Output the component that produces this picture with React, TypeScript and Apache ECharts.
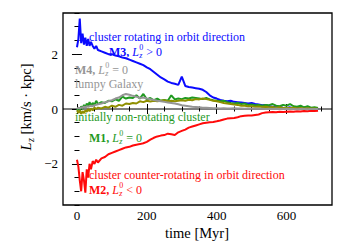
import React, { useEffect, useRef } from "react";
import * as echarts from "echarts";

const times = [0, 4, 8, 12, 16, 20, 24, 28, 32, 36, 40, 45, 50, 55, 60, 70, 80, 90, 100, 110, 120, 130, 140, 150, 160, 170, 180, 190, 200, 210, 220, 230, 240, 250, 260, 270, 280, 290, 300, 310, 320, 330, 340, 350, 360, 370, 380, 390, 400, 410, 420, 430, 440, 450, 460, 470, 480, 490, 500, 510, 520, 530, 540, 550, 560, 570, 580, 590, 600, 610, 620, 630, 640, 650, 660, 670, 680, 690];

const m3Blue = [2.25, 2.55, 3.3, 2.4, 2.75, 2.35, 2.6, 2.3, 2.55, 2.3, 2.45, 2.3, 2.2, 2.3, 2.15, 2.1, 2.05, 2.0, 2.0, 1.95, 1.92, 1.88, 1.85, 1.8, 1.75, 1.7, 1.65, 1.6, 1.52, 1.45, 1.35, 1.25, 1.15, 1.08, 1.0, 0.95, 0.92, 0.88, 1.18, 0.84, 0.8, 0.78, 0.76, 0.74, 0.7, 0.62, 0.5, 0.42, 0.38, 0.33, 0.3, 0.28, 0.3, 0.26, 0.25, 0.24, 0.22, 0.2, 0.22, 0.18, 0.16, 0.14, 0.15, 0.1, 0.08, 0.06, 0.07, 0.05, 0.04, 0.06, 0.03, 0.05, 0.02, 0.0, 0.02, -0.02, 0.0, -0.03];

const m2Red = [-1.85, -2.1, -2.6, -3.0, -2.3, -2.6, -3.05, -2.2, -2.5, -2.0, -2.2, -1.9, -2.0, -1.85, -1.95, -1.8, -1.75, -1.65, -1.6, -1.55, -1.5, -1.45, -1.4, -1.38, -1.33, -1.3, -1.28, -1.25, -1.2, -1.12, -1.05, -1.0, -0.97, -0.95, -0.9, -0.92, -0.95, -0.85, -0.8, -0.75, -0.68, -0.64, -0.6, -0.56, -0.52, -0.5, -0.48, -0.47, -0.45, -0.42, -0.38, -0.35, -0.34, -0.33, -0.3, -0.26, -0.25, -0.24, -0.24, -0.22, -0.2, -0.15, -0.13, -0.12, -0.11, -0.12, -0.1, -0.11, -0.1, -0.09, -0.1, -0.08, -0.09, -0.07, -0.08, -0.06, -0.07, -0.06];

const m1Green = [-0.05, 0.05, -0.1, 0.1, 0.0, 0.15, 0.05, 0.2, 0.1, 0.25, 0.12, 0.22, 0.15, 0.3, 0.18, 0.25, 0.22, 0.3, 0.28, 0.35, 0.3, 0.45, 0.38, 0.42, 0.4, 0.5, 0.38, 0.55, 0.35, 0.4, 0.32, 0.38, 0.3, 0.33, 0.3, 0.5, 0.35, 0.38, 0.36, 0.4, 0.38, 0.42, 0.4, 0.38, 0.36, 0.4, 0.35, 0.32, 0.3, 0.28, 0.3, 0.25, 0.22, 0.2, 0.22, 0.18, 0.2, 0.15, 0.16, 0.14, 0.15, 0.12, 0.15, 0.14, 0.18, 0.12, 0.1, 0.15, 0.12, 0.18, 0.1, 0.08, 0.12, 0.06, 0.1, 0.05, 0.06, 0.04];

const oliveRun = [-0.05, -0.15, -0.05, -0.18, -0.08, -0.15, -0.05, -0.1, 0.0, -0.08, 0.02, -0.05, 0.05, 0.0, 0.05, 0.02, 0.08, 0.05, 0.12, 0.08, 0.15, 0.12, 0.2, 0.18, 0.22, 0.2, 0.28, 0.25, 0.3, 0.27, 0.3, 0.28, 0.3, 0.32, 0.28, 0.3, 0.28, 0.3, 0.32, 0.3, 0.34, 0.32, 0.36, 0.35, 0.38, 0.36, 0.34, 0.3, 0.28, 0.25, 0.22, 0.2, 0.18, 0.16, 0.15, 0.12, 0.12, 0.1, 0.1, 0.08, 0.09, 0.07, 0.08, 0.06, 0.07, 0.05, 0.06, 0.04, 0.05, 0.04, 0.05, 0.03, 0.04, 0.02, 0.03, 0.02, 0.02, 0.01];

const m4Gray = [0.0, 0.05, 0.02, 0.06, 0.04, 0.08, 0.06, 0.1, 0.08, 0.1, 0.12, 0.1, 0.14, 0.15, 0.17, 0.2, 0.24, 0.28, 0.32, 0.38, 0.42, 0.5, 0.55, 0.52, 0.48, 0.45, 0.4, 0.42, 0.38, 0.36, 0.33, 0.3, 0.28, 0.26, 0.24, 0.22, 0.2, 0.17, 0.14, 0.12, 0.1, 0.08, 0.07, 0.06, 0.05, 0.05, 0.04, 0.03, 0.03, 0.02, 0.03, 0.02, 0.02, 0.03, 0.02, 0.02, 0.01, 0.02, 0.01, 0.02, 0.01, 0.01, 0.0, 0.01, 0.0, 0.01, 0.0, 0.0, 0.01, 0.0, 0.0, -0.01, 0.0, 0.0, -0.01, 0.0, 0.0, 0.0];

const xMajor = [0, 200, 400, 600];
const xMinor = [50, 100, 150, 250, 300, 350, 450, 500, 550, 650, 700];
const yMajor = [-2, 0, 2];
const yMinor = [-3.5, -3, -2.5, -1.5, -1, -0.5, 0.5, 1, 1.5, 2.5, 3, 3.5];
const yTickLabels = ["\u22122", "0", "2"];

const FONT = '"Liberation Serif", "Times New Roman", serif';
const BLUE = "#0a0aff";
const RED = "#ff0a0a";
const GREEN = "#1f9a1f";
const OLIVE = "#8f8f00";
const GRAY = "#959595";

let ctx: CanvasRenderingContext2D | null = null;
function measure(t: string, size: number, weight = "normal", style = "normal") {
  if (!ctx) ctx = document.createElement("canvas").getContext("2d");
  if (!ctx) return t.length * size * 0.5;
  ctx.font = `${style} ${weight} ${size}px ${FONT}`;
  return ctx.measureText(t).width;
}

function txt(t: string, x: number, y: number, color: string, size: number, weight = "normal", style = "normal") {
  return {
    type: "text",
    x,
    y,
    silent: true,
    z: 100,
    style: {
      text: t,
      fill: color,
      fontSize: size,
      fontFamily: FONT,
      fontWeight: weight,
      fontStyle: style,
      align: "left",
      verticalAlign: "middle",
      textAlign: "left",
      textVerticalAlign: "middle",
    },
  };
}

const ANN = 12;
function mathLabel(x: number, y: number, color: string, prefix: string, op: string) {
  const els: any[] = [];
  let cx = x;
  els.push(txt(prefix + ",", cx, y, color, ANN, "bold"));
  cx += measure(prefix + ",", ANN, "bold") + measure(" ", ANN);
  els.push(txt("L", cx, y, color, ANN, "normal", "italic"));
  cx += measure("L", ANN, "normal", "italic") + 0.3;
  const s = 8;
  els.push(txt("0", cx, y - 4.3, color, s));
  els.push(txt("z", cx, y + 3.6, color, s, "normal", "italic"));
  cx += Math.max(measure("0", s), measure("z", s, "normal", "italic")) + measure(" ", ANN);
  els.push(txt(op + " 0", cx, y, color, ANN));
  return els;
}

function yTitle() {
  const S = 14.5;
  const sub = 10;
  const wL = measure("L", S, "normal", "italic");
  const wz = measure("z", sub, "normal", "italic");
  const rest = " [km/s \u00b7 kpc]";
  const wr = measure(rest, S);
  const total = wL + 0.5 + wz + wr;
  let cx = -total / 2;
  const ch: any[] = [];
  ch.push(txt("L", cx, 0, "#000", S, "normal", "italic"));
  cx += wL + 0.5;
  ch.push(txt("z", cx, 4, "#000", sub, "normal", "italic"));
  cx += wz;
  ch.push(txt(rest, cx, 0, "#000", S));
  return { type: "group", x: 26, y: 107, rotation: Math.PI / 2, children: ch };
}

export default function App() {
  const ref = useRef<HTMLDivElement>(null);
  useEffect(() => {
    if (!ref.current) return;
    const chart = echarts.init(ref.current, undefined, { renderer: "svg" });
    const pair = (vals: number[]) => times.map((t, i) => [t, vals[i]]);
    const common = { type: "value", min: -40, max: 730, splitLine: { show: false } };
    const commonY = { type: "value", min: -3.5, max: 3.5, splitLine: { show: false } };
    const labelStyle = { color: "#000", fontSize: 13, fontFamily: FONT };
    const xAxis: any[] = [
      { ...common, position: "bottom", axisLine: { show: false },
        axisTick: { inside: true, length: 5, customValues: xMajor, lineStyle: { color: "#000", width: 1 } },
        axisLabel: { ...labelStyle, customValues: xMajor, margin: 4 } },
      { ...common, position: "bottom", axisLine: { show: false },
        axisTick: { inside: true, length: 2.5, customValues: xMinor, lineStyle: { color: "#000", width: 1 } },
        axisLabel: { show: false } },
      { ...common, position: "top", axisLine: { show: false },
        axisTick: { inside: true, length: 5, customValues: xMajor, lineStyle: { color: "#000", width: 1 } },
        axisLabel: { show: false } },
      { ...common, position: "top", axisLine: { show: false },
        axisTick: { inside: true, length: 2.5, customValues: xMinor, lineStyle: { color: "#000", width: 1 } },
        axisLabel: { show: false } },
    ];
    const yAxis: any[] = [
      { ...commonY, position: "left", axisLine: { show: false },
        axisTick: { inside: true, length: 5, customValues: yMajor, lineStyle: { color: "#000", width: 1 } },
        axisLabel: { ...labelStyle, customValues: yMajor, margin: 5,
          formatter: (v: number) => yTickLabels[yMajor.indexOf(v)] ?? String(v) } },
      { ...commonY, position: "left", axisLine: { show: false },
        axisTick: { inside: true, length: 2.5, customValues: yMinor, lineStyle: { color: "#000", width: 1 } },
        axisLabel: { show: false } },
      { ...commonY, position: "right", axisLine: { show: false },
        axisTick: { inside: true, length: 5, customValues: yMajor, lineStyle: { color: "#000", width: 1 } },
        axisLabel: { show: false } },
      { ...commonY, position: "right", axisLine: { show: false },
        axisTick: { inside: true, length: 2.5, customValues: yMinor, lineStyle: { color: "#000", width: 1 } },
        axisLabel: { show: false } },
    ];
    const line = (name: string, vals: number[], color: string, z: number) => ({
      name,
      type: "line",
      data: pair(vals),
      showSymbol: false,
      symbol: "none",
      lineStyle: { color, width: 2 },
      z,
    });
    const graphic: any[] = [
      txt("cluster rotating in orbit direction", 89, 36.5, BLUE, ANN),
      ...mathLabel(109, 52, BLUE, "M3", ">"),
      ...mathLabel(75, 69.5, GRAY, "M4", "="),
      txt("lumpy Galaxy", 75, 84, GRAY, ANN),
      txt("initially non-rotating cluster", 75, 117, GREEN, ANN),
      ...mathLabel(89, 138, GREEN, "M1", "="),
      txt("cluster counter-rotating in orbit direction", 89, 175, RED, ANN),
      ...mathLabel(89, 190, RED, "M2", "<"),
      yTitle(),
      { type: "text", x: 197, y: 233, silent: true,
        style: { text: "time [Myr]", fill: "#000", fontSize: 14.5, fontFamily: FONT,
          align: "center", verticalAlign: "middle", textAlign: "center", textVerticalAlign: "middle" } },
    ];
    chart.setOption({
      animation: false,
      backgroundColor: "#fff",
      grid: { left: 63, top: 13, right: 18, bottom: 45, show: true, borderColor: "#000", borderWidth: 1.3, backgroundColor: "transparent" },
      xAxis,
      yAxis,
      series: [
        { type: "line", data: [[-40, 0], [730, 0]], showSymbol: false, symbol: "none", lineStyle: { color: "#000", width: 1 }, z: 1, silent: true },
        line("M3", m3Blue, BLUE, 2),
        line("M2", m2Red, RED, 2),
        line("M1", m1Green, GREEN, 3),
        line("olive", oliveRun, OLIVE, 4),
        line("M4", m4Gray, GRAY, 5),
      ],
      graphic,
    });
    return () => chart.dispose();
  }, []);
  return <div ref={ref} style={{ width: 350, height: 250, position: "absolute", left: 0, top: 0 }} />;
}
